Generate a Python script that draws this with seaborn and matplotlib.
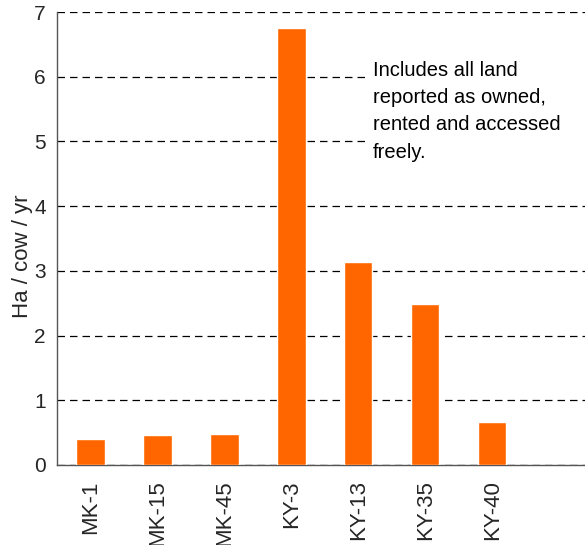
import matplotlib
matplotlib.use("Agg")
import matplotlib.pyplot as plt
from matplotlib.patches import Rectangle
import seaborn as sns
import pandas as pd
import numpy as np

categories = ["MK-1", "MK-15", "MK-45", "KY-3", "KY-13", "KY-35", "KY-40"]
values = [0.40, 0.46, 0.48, 6.75, 3.13, 2.49, 0.67]
y_ticks = [0, 1, 2, 3, 4, 5, 6, 7]
note = "Includes all land\nreported as owned,\nrented and accessed\nfreely."

sns.set_style("white")
plt.rcParams['font.family'] = ['Liberation Sans', 'DejaVu Sans']

df = pd.DataFrame({"site": categories, "ha": values})

fig = plt.figure(figsize=(5.85, 5.45), dpi=100)
ax = fig.add_axes([57/585, 1-465/545, 1-57/585 + 0.002, (465-12)/545])

sns.barplot(data=df, x="site", y="ha", color="#FF6600", width=0.42,
            saturation=1, ax=ax, zorder=3)

ax.set_ylim(0, 7)
ax.set_xlim(-0.5, 7.4)
ax.set_yticks(y_ticks)
ax.set_yticklabels([str(v) for v in y_ticks], fontsize=15)
ax.yaxis.grid(True, linestyle=(0, (6, 4)), color="black", linewidth=0.9, zorder=0)
ax.xaxis.grid(False)

ax.set_xticks(range(len(categories)))
ax.set_xticklabels(categories, rotation=90, fontsize=16)
ax.tick_params(axis="x", which="major", length=0, pad=11)
ax.set_xticks(np.arange(-0.5, len(categories), 1.0), minor=True)
ax.tick_params(axis="x", which="minor", length=6, color="#555555", width=1, direction="out")
ax.tick_params(axis="y", length=6, color="#555555", width=1, direction="out", pad=2)

for s in ["top", "right"]:
    ax.spines[s].set_visible(False)
for s in ["left", "bottom"]:
    ax.spines[s].set_color("#555555")
    ax.spines[s].set_linewidth(1)

ax.set_xlabel("")
ax.set_ylabel("Ha / cow / yr", fontsize=16)
ax.yaxis.set_label_coords(-0.045, 0.46)

fig.patches.append(Rectangle((366/585, 1-168/545), (585-366)/585, (168-55)/545,
                             transform=fig.transFigure, facecolor="white",
                             edgecolor="none", zorder=4))
fig.text(373/585, 1-61/545, note, fontsize=14.5,
         va="top", ha="left", linespacing=1.55, color="black", zorder=5)

fig.savefig("out.png", dpi=100)
